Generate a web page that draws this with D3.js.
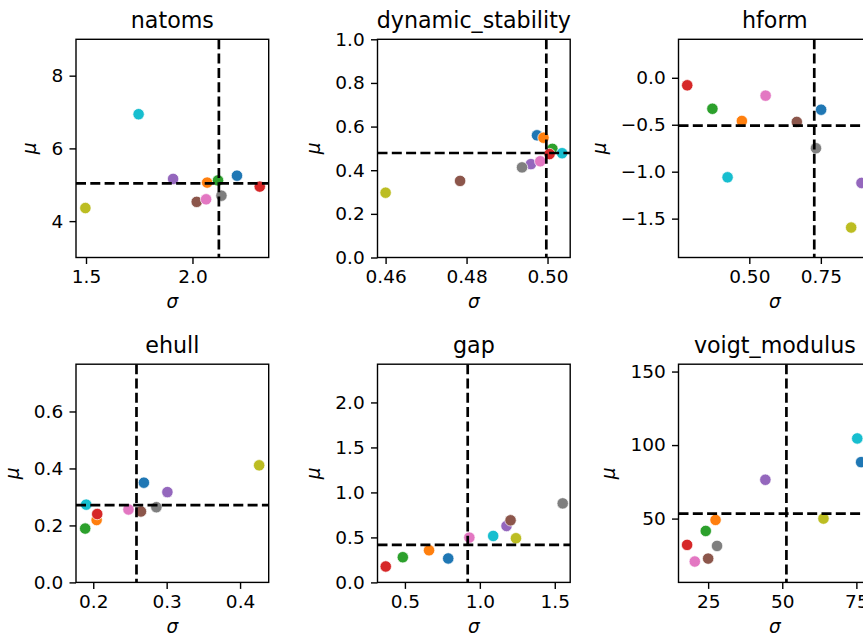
<!DOCTYPE html>
<html>
<head>
<meta charset="utf-8">
<script src="https://cdn.jsdelivr.net/npm/d3@7"></script>
<style>
  body { margin: 0; background: #fff; }
  svg { font-family: "DejaVu Sans", sans-serif; display: block; }
</style>
</head>
<body>
<script>
// ten models, coloured in tab10 order
var models = ["model_0", "model_1", "model_2", "model_3", "model_4",
              "model_5", "model_6", "model_7", "model_8", "model_9"];

var properties = ["natoms", "dynamic_stability", "hform", "ehull", "gap", "voigt_modulus"];

// sigma (x) and mu (y) for every model, per property
var natomsSigma = [2.209, 2.069, 2.120, 2.316, 1.909, 2.020, 2.064, 2.136, 1.497, 1.747];
var natomsMu    = [5.25, 5.06, 5.12, 4.95, 5.16, 4.53, 4.60, 4.70, 4.36, 6.94];

var dynSigma = [0.4974, 0.4990, 0.5012, 0.5005, 0.4959, 0.4784, 0.4982, 0.4937, 0.4600, 0.5036];
var dynMu    = [0.560, 0.549, 0.498, 0.474, 0.428, 0.351, 0.441, 0.413, 0.297, 0.478];

var hformSigma = [0.751, 0.474, 0.371, 0.283, 0.892, 0.666, 0.557, 0.733, 0.856, 0.424];
var hformMu    = [-0.34, -0.46, -0.33, -0.08, -1.12, -0.47, -0.19, -0.75, -1.595, -1.06];

var ehullSigma = [0.269, 0.2046, 0.189, 0.2054, 0.301, 0.265, 0.248, 0.286, 0.426, 0.1904];
var ehullMu    = [0.350, 0.219, 0.189, 0.240, 0.317, 0.249, 0.256, 0.264, 0.411, 0.273];

var gapSigma = [0.789, 0.661, 0.486, 0.372, 1.178, 1.205, 0.930, 1.553, 1.241, 1.089];
var gapMu    = [0.266, 0.357, 0.280, 0.177, 0.627, 0.690, 0.498, 0.878, 0.491, 0.516];

var voigtSigma = [76.6, 27.5, 24.2, 17.9, 44.3, 25.0, 20.5, 28.0, 63.9, 75.3];
var voigtMu    = [88.4, 49.1, 41.6, 32.1, 76.4, 22.8, 20.8, 31.4, 50.0, 104.5];

// dashed reference lines
var refSigma = [2.124, 0.4997, 0.727, 0.2589, 0.919, 51.4];
var refMu    = [5.04, 0.479, -0.51, 0.271, 0.416, 53.4];

// axis limits and ticks
var xLimits = [[1.453, 2.358], [0.4580, 0.5056], [0.2525, 0.926], [0.1765, 0.439], [0.317, 1.603], [15.0, 80.0]];
var yLimits = [[3, 9], [0, 1], [-1.914, 0.41], [0, 0.766], [0, 2.425], [6.6, 155]];
var xTicks = [[1.5, 2.0], [0.46, 0.48, 0.50], [0.50, 0.75], [0.2, 0.3, 0.4], [0.5, 1.0, 1.5], [25, 50, 75]];
var yTicks = [[4, 6, 8], [0, 0.2, 0.4, 0.6, 0.8, 1.0], [-1.5, -1.0, -0.5, 0.0], [0, 0.2, 0.4, 0.6], [0, 0.5, 1.0, 1.5, 2.0], [50, 100, 150]];
var xFormats = [".1f", ".2f", ".2f", ".1f", ".1f", "d"];
var yFormats = ["d", ".1f", ".1f", ".1f", ".1f", "d"];

var sigmas = [natomsSigma, dynSigma, hformSigma, ehullSigma, gapSigma, voigtSigma];
var mus = [natomsMu, dynMu, hformMu, ehullMu, gapMu, voigtMu];

var W = 863, H = 636;
var colLeft = [76, 377.5, 678.5], rowTop = [39.3, 364.2];
var aw = 192.7, ah = 218.2;
var tickLen = 6.5, tickPad = 6.3;
var tickFont = "18.5px", titleFont = "22.2px";
var colour = d3.scaleOrdinal(d3.schemeCategory10).domain(models);

var svg = d3.select("body").append("svg")
  .attr("width", W).attr("height", H);

function fmt(spec) {
  var f = d3.format(spec);
  return function(d) { return f(d).replace("-", "\u2212"); };
}

properties.forEach(function(prop, i) {
  var left = colLeft[i % 3], top = rowTop[Math.floor(i / 3)];
  var g = svg.append("g").attr("transform", "translate(" + left + "," + top + ")");

  var x = d3.scaleLinear().domain(xLimits[i]).range([0, aw]);
  var y = d3.scaleLinear().domain(yLimits[i]).range([ah, 0]);

  var clipId = "clip" + i;
  g.append("clipPath").attr("id", clipId)
    .append("rect").attr("width", aw).attr("height", ah);

  var data = models.map(function(m, k) { return { model: m, s: sigmas[i][k], m: mus[i][k] }; });

  g.append("g").attr("clip-path", "url(#" + clipId + ")")
    .selectAll("circle")
    .data(data)
    .enter()
    .append("circle")
    .attr("cx", function(d) { return x(d.s); })
    .attr("cy", function(d) { return y(d.m); })
    .attr("r", 5.7)
    .attr("fill", function(d) { return colour(d.model); })
    .attr("stroke", "#fff")
    .attr("stroke-width", 0.7);

  // reference lines sit on top of the points
  var lines = g.append("g").attr("clip-path", "url(#" + clipId + ")");
  lines.append("line")
    .attr("x1", x(refSigma[i])).attr("x2", x(refSigma[i]))
    .attr("y1", 0).attr("y2", ah);
  lines.append("line")
    .attr("x1", 0).attr("x2", aw)
    .attr("y1", y(refMu[i])).attr("y2", y(refMu[i]));
  lines.selectAll("line")
    .attr("stroke", "#000").attr("stroke-width", 2.7)
    .attr("stroke-dasharray", "10,4.3");

  var xa = g.append("g").attr("transform", "translate(0," + ah + ")")
    .call(d3.axisBottom(x).tickValues(xTicks[i]).tickFormat(fmt(xFormats[i]))
      .tickSize(tickLen).tickPadding(tickPad));
  var ya = g.append("g")
    .call(d3.axisLeft(y).tickValues(yTicks[i]).tickFormat(fmt(yFormats[i]))
      .tickSize(tickLen).tickPadding(tickPad));
  [xa, ya].forEach(function(a) {
    a.select(".domain").remove();
    a.selectAll(".tick line").attr("stroke", "#000").attr("stroke-width", 1.4);
    a.selectAll("text").attr("fill", "#000").style("font-size", tickFont)
      .attr("font-family", "DejaVu Sans");
  });

  g.append("rect").attr("width", aw).attr("height", ah)
    .attr("fill", "none").attr("stroke", "#000").attr("stroke-width", 1.4);

  g.append("text")
    .attr("x", aw / 2).attr("y", -11)
    .attr("text-anchor", "middle")
    .style("font-size", titleFont)
    .text(prop);

  g.append("text")
    .attr("x", aw / 2).attr("y", ah + 50.5)
    .attr("text-anchor", "middle")
    .style("font-size", tickFont).style("font-style", "italic")
    .text("\u03c3");

  var labLeft = ya.node().getBBox().x;
  g.append("text")
    .attr("transform", "translate(" + (labLeft - 15) + "," + (ah / 2) + ") rotate(-90)")
    .attr("text-anchor", "middle")
    .style("font-size", tickFont).style("font-style", "italic")
    .text("\u03bc");
});
</script>
</body>
</html>
